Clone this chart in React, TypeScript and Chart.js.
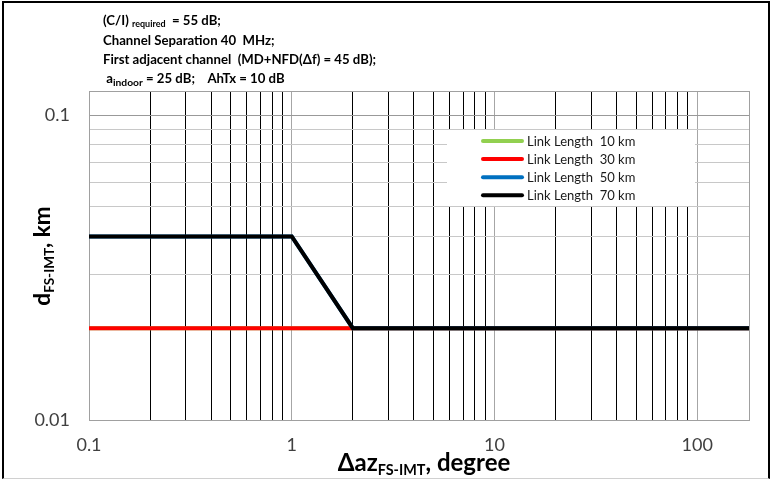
import React, { useEffect, useRef } from "react";
import { Chart, registerables } from "chart.js";

Chart.register(...registerables);

// ---- data ----
const seriesNames = [
  "Link Length  10 km",
  "Link Length  30 km",
  "Link Length  50 km",
  "Link Length  70 km",
];
const az10 = [0.1, 1, 2, 180];
const dist10 = [0.02, 0.02, 0.02, 0.02];
const az30 = [0.1, 1, 2, 180];
const dist30 = [0.02, 0.02, 0.02, 0.02];
const az50 = [0.1, 1, 2, 180];
const dist50 = [0.04, 0.04, 0.02, 0.02];
const az70 = [0.1, 1, 2, 180];
const dist70 = [0.04, 0.04, 0.02, 0.02];

const xTickLabels = [0.1, 1, 10, 100];
const yTickLabels = [0.01, 0.1];
const xRange = [0.1, 180];
const yRange = [0.01, 0.12];

const isDecade = (v: number) =>
  Math.abs(Math.log10(v) - Math.round(Math.log10(v))) < 1e-9;

function logGrid(min: number, max: number): number[] {
  const out: number[] = [];
  let dec = Math.pow(10, Math.floor(Math.log10(min)));
  while (dec <= max) {
    for (let m = 1; m <= 9; m++) {
      const v = parseFloat((m * dec).toPrecision(6));
      if (v >= min - 1e-12 && v < max - 1e-12) out.push(v);
    }
    dec *= 10;
  }
  return out;
}

const toPts = (xs: number[], ys: number[]) => xs.map((x, i) => ({ x, y: ys[i] }));

const FONT = "Lato, 'Open Sans', sans-serif";

const legendPlugin = {
  id: "boxLegend",
  afterDatasetsDraw(chart: any) {
    const ctx = chart.ctx;
    ctx.save();
    ctx.fillStyle = "#ffffff";
    ctx.fillRect(447, 130, 248, 76);
    const order = [0, 1, 2, 3];
    order.forEach((i, row) => {
      const ds = chart.data.datasets[i];
      const y = 141 + row * 18.1;
      ctx.strokeStyle = ds.borderColor;
      ctx.lineWidth = 4;
      ctx.lineCap = "round";
      ctx.beginPath();
      ctx.moveTo(483, y);
      ctx.lineTo(522, y);
      ctx.stroke();
      ctx.fillStyle = "#1a1a1a";
      ctx.font = `13px ${FONT}`;
      ctx.textBaseline = "middle";
      ctx.textAlign = "left";
      ctx.fillText(ds.label, 527, y + 0.5);
    });
    ctx.restore();
  },
};

const plotBorderPlugin = {
  id: "plotBorder",
  beforeDatasetsDraw(chart: any) {
    const { left, top, right, bottom } = chart.chartArea;
    const ctx = chart.ctx;
    ctx.save();
    ctx.strokeStyle = "#a0a0a0";
    ctx.lineWidth = 1;
    ctx.strokeRect(Math.round(left) + 0.5, Math.round(top) + 0.5, Math.round(right - left), Math.round(bottom - top));
    ctx.restore();
  },
};

export default function App() {
  const canvasRef = useRef<HTMLCanvasElement | null>(null);

  useEffect(() => {
    document.body.style.margin = "0";
    const canvas = canvasRef.current;
    if (!canvas) return;
    const xGrid = logGrid(xRange[0], xRange[1]);
    const yGrid = logGrid(yRange[0], yRange[1]);

    const chart = new Chart(canvas, {
      type: "line",
      data: {
        datasets: [
          { label: seriesNames[0], data: toPts(az10, dist10), borderColor: "#92D050", order: 3 },
          { label: seriesNames[1], data: toPts(az30, dist30), borderColor: "#FF0000", order: 2 },
          { label: seriesNames[2], data: toPts(az50, dist50), borderColor: "#0070C0", order: 1 },
          { label: seriesNames[3], data: toPts(az70, dist70), borderColor: "#000000", order: 0 },
        ].map((d) => ({
          ...d,
          borderWidth: 4,
          pointRadius: 0,
          tension: 0,
          fill: false,
          borderJoinStyle: "miter" as const,
        })),
      },
      options: {
        animation: false,
        responsive: false,
        events: [],
        layout: { padding: { left: 29, right: 25, top: 91, bottom: 22 } },
        plugins: { legend: { display: false }, tooltip: { enabled: false } },
        scales: {
          x: {
            type: "logarithmic",
            min: xRange[0],
            max: xRange[1],
            afterBuildTicks: (scale: any) => {
              scale.ticks = xGrid.map((v) => ({ value: v }));
            },
            afterFit: (scale: any) => {
              scale.height = 40;
            },
            ticks: {
              autoSkip: false,
              maxRotation: 0,
              padding: 14,
              color: "#404040",
              font: { family: FONT, size: 18 },
              callback: (v: any) => (xTickLabels.includes(Number(v)) ? String(v) : ""),
            },
            grid: {
              drawTicks: false,
              lineWidth: 1,
              color: (c: any) => (c.tick && isDecade(c.tick.value) ? "#a6a6a6" : "#000000"),
            },
            border: { display: false },
          },
          y: {
            type: "logarithmic",
            min: yRange[0],
            max: yRange[1],
            afterBuildTicks: (scale: any) => {
              scale.ticks = yGrid.map((v) => ({ value: v }));
            },
            afterFit: (scale: any) => {
              scale.width = 60;
            },
            ticks: {
              autoSkip: false,
              padding: 19,
              color: "#404040",
              font: { family: FONT, size: 18 },
              callback: (v: any) => (yTickLabels.includes(Number(v)) ? String(v) : ""),
            },
            grid: {
              drawTicks: false,
              lineWidth: 1,
              color: (c: any) => (c.tick && isDecade(c.tick.value) ? "#999999" : "#c8c8c8"),
            },
            border: { display: false },
          },
        },
      },
      plugins: [plotBorderPlugin, legendPlugin],
    } as any);
    return () => chart.destroy();
  }, []);

  const sub = (t: string, size: string, drop: string) => (
    <span style={{ fontSize: size, position: "relative", top: drop }}>{t}</span>
  );

  return (
    <div style={{ position: "relative", width: 774, height: 482, background: "#fff", overflow: "hidden" }}>
      <canvas ref={canvasRef} width={774} height={482} style={{ position: "absolute", left: 0, top: 0 }} />
      {/* outer frame */}
      <div
        style={{
          position: "absolute",
          left: 2,
          top: 1,
          width: 768,
          height: 478,
          borderLeft: "2.5px solid #000",
          borderTop: "2.5px solid #000",
          borderRight: "2.5px solid #000",
          borderBottom: "1px solid #d0d0d0",
          boxSizing: "border-box",
        }}
      />
      {/* annotation */}
      <div
        style={{
          position: "absolute",
          left: 103,
          top: 10.5,
          fontFamily: FONT,
          fontWeight: 700,
          fontSize: 13.2,
          lineHeight: "19px",
          color: "#000",
          whiteSpace: "pre",
        }}
      >
        <div>
          (C/I){" "}
          {sub("required", "0.68em", "0.3em")}
          {"  = 55 dB;"}
        </div>
        <div>{"Channel Separation 40  MHz;"}</div>
        <div>{"First adjacent channel  (MD+NFD(\u0394f) = 45 dB);"}</div>
        <div>
          {" a"}
          {sub("indoor", "0.78em", "0.3em")}
          {" = 25 dB;    AhTx = 10 dB"}
        </div>
      </div>
      {/* x axis title */}
      <div
        style={{
          position: "absolute",
          left: 224,
          top: 446.7,
          width: 400,
          textAlign: "center",
          fontFamily: FONT,
          fontWeight: 700,
          fontSize: 24,
          lineHeight: "30px",
          color: "#000",
          whiteSpace: "pre",
        }}
      >
        {"\u0394az"}
        {sub("FS-IMT", "0.6em", "0.3em")}
        {", degree"}
      </div>
      {/* y axis title */}
      <div
        style={{
          position: "absolute",
          left: -58,
          top: 241,
          width: 200,
          height: 30,
          textAlign: "center",
          fontFamily: FONT,
          fontWeight: 700,
          fontSize: 22.5,
          lineHeight: "30px",
          color: "#000",
          whiteSpace: "pre",
          transform: "rotate(-90deg)",
        }}
      >
        {"d"}
        {sub("FS-IMT", "0.6em", "0.3em")}
        {", km"}
      </div>
    </div>
  );
}
